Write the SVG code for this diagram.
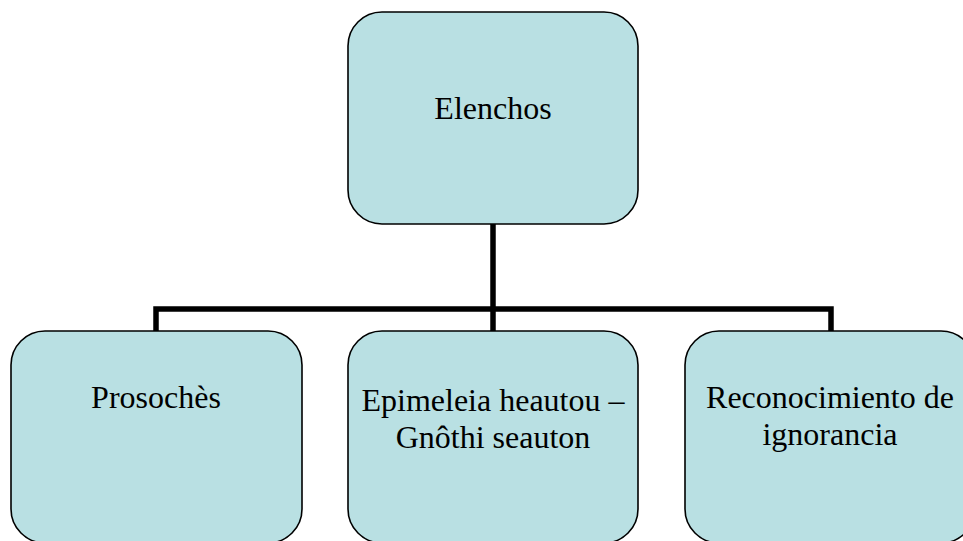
<svg xmlns="http://www.w3.org/2000/svg" width="963" height="541" viewBox="0 0 963 541">
<style>
.box{fill:#B9E0E3;stroke:#000;stroke-width:1.6}
.conn{fill:none;stroke:#000;stroke-width:5.5;stroke-linejoin:miter}
</style>
<rect width="963" height="541" fill="#fff"/>
<g id="connectors">
<path class="conn" d="M493,224 V331"/>
<path class="conn" d="M156,331 V309 H831 V331"/>
</g>
<g font-family="Liberation Serif" font-size="32" fill="#000" text-anchor="middle">
<g id="elenchos">
<rect class="box" x="348" y="12" width="290" height="212" rx="34" ry="34"/>
<text x="493" y="119">Elenchos</text>
</g>
<g id="prosoches">
<rect class="box" x="11" y="331" width="291" height="212" rx="34" ry="34"/>
<text x="156" y="408">Prosochès</text>
</g>
<g id="epimeleia">
<rect class="box" x="348" y="331" width="290" height="212" rx="34" ry="34"/>
<text x="493" y="411">Epimeleia heautou –</text>
<text x="493" y="448">Gnôthi seauton</text>
</g>
<g id="reconocimiento">
<rect class="box" x="685" y="331" width="290" height="212" rx="34" ry="34"/>
<text x="830" y="408">Reconocimiento de</text>
<text x="830" y="445">ignorancia</text>
</g>
</g>
</svg>
